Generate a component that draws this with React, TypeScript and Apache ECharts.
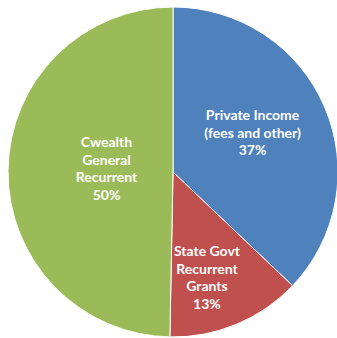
import React, { useEffect, useRef } from "react";
import * as echarts from "echarts";

const categories = ["Private Income\n(fees and other)", "State Govt\nRecurrent\nGrants", "Cwealth\nGeneral\nRecurrent"];
const values = [37.1, 13.2, 49.7];
const colors = ["#4F81BD", "#C0504D", "#9BBB59"];
const labelShift = [
  [1, -6],
  [1, 26],
  [19, -3],
];

export default function App() {
  const ref = useRef<HTMLDivElement>(null);
  useEffect(() => {
    const chart = echarts.init(ref.current!, null, { renderer: "svg" });
    chart.setOption({
      animation: false,
      backgroundColor: "#ffffff",
      series: [
        {
          type: "pie",
          center: [173, 172],
          radius: 165,
          startAngle: 90,
          clockwise: true,
          silent: true,
          itemStyle: { borderColor: "#ffffff", borderWidth: 1 },
          label: {
            show: true,
            position: "inside",
            color: "#ffffff",
            fontFamily: "Lato",
            fontWeight: "bold",
            fontSize: 14,
            lineHeight: 17.5,
            align: "center",
            formatter: (p: any) => `${p.name}\n${Math.round(p.value)}%`,
          },
          labelLine: { show: false },
          labelLayout: (p: any) => ({ dx: labelShift[p.dataIndex][0], dy: labelShift[p.dataIndex][1] }),
          data: categories.map((name, i) => ({ name, value: values[i], itemStyle: { color: colors[i] } })),
        },
      ],
    });
    return () => chart.dispose();
  }, []);
  return <div ref={ref} style={{ position: "fixed", left: 0, top: 0, width: 337, height: 338 }} />;
}
